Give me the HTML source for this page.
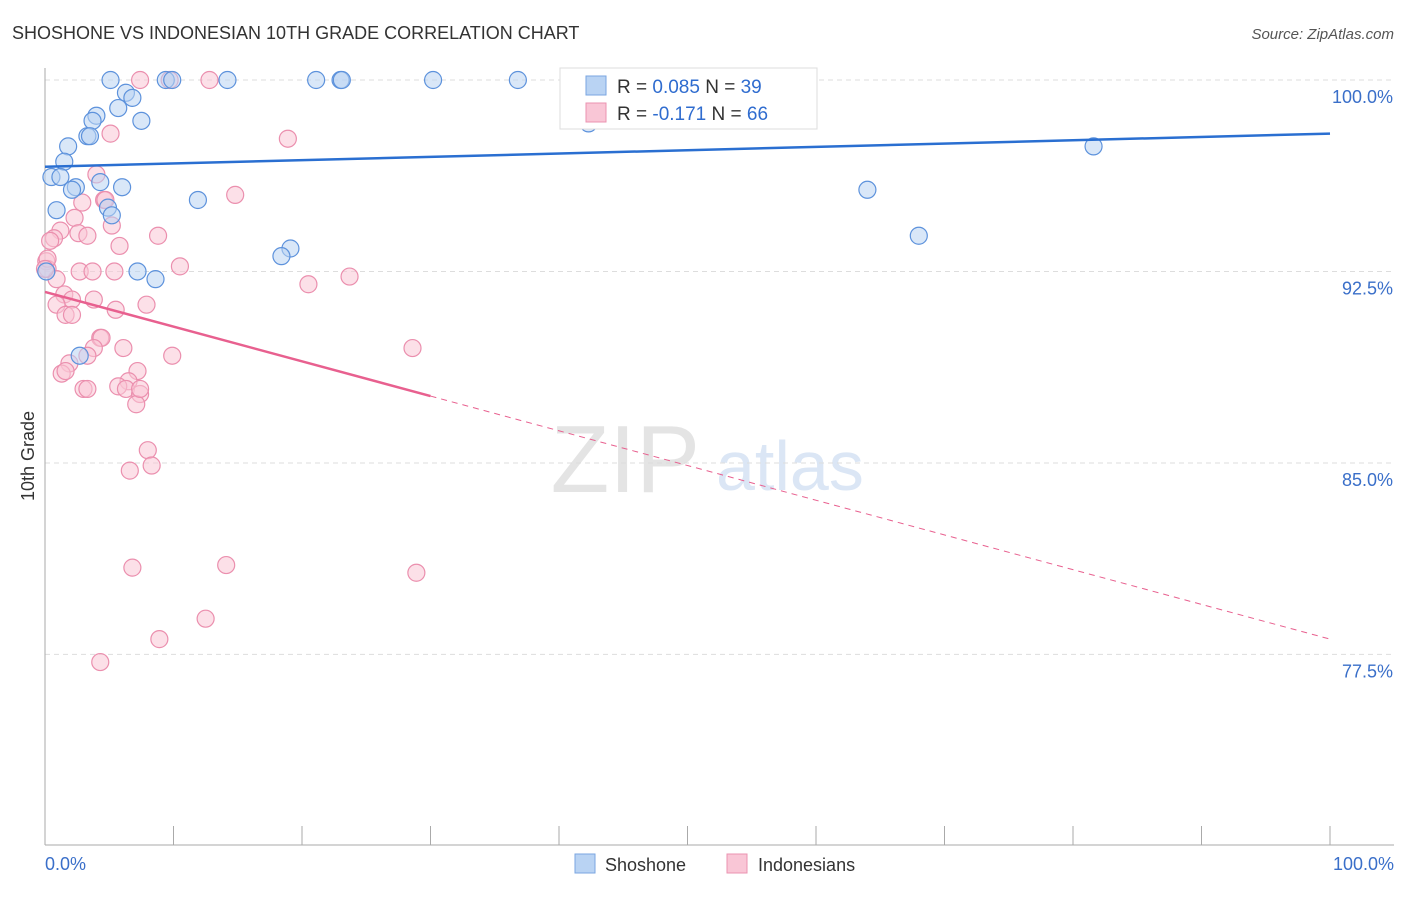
<!DOCTYPE html>
<html><head><meta charset="utf-8"><style>
body{margin:0;background:#fff;font-family:"Liberation Sans",sans-serif}
svg text{font-family:"Liberation Sans",sans-serif}
</style></head><body>
<svg width="1406" height="892" xmlns="http://www.w3.org/2000/svg">
<text x="12" y="39" font-size="18" fill="#333">SHOSHONE VS INDONESIAN 10TH GRADE CORRELATION CHART</text>
<text x="1394" y="39" font-size="15" fill="#555" font-style="italic" text-anchor="end">Source: ZipAtlas.com</text>
<text x="700" y="492" font-size="96" fill="#e4e4e4" font-family="Liberation Serif" text-anchor="end">ZIP</text>
<text x="716" y="490" font-size="70" fill="#dbe6f5">atlas</text>
<g id="grid"></g>
<g id="axes"></g>
<g id="pts"></g>
<g id="lines"></g>
<text transform="translate(34,456) rotate(-90)" font-size="18" fill="#333" text-anchor="middle">10th Grade</text>
<text x="45" y="870" font-size="18" fill="#3a6fc9">0.0%</text>
<text x="1394" y="870" font-size="18" fill="#3a6fc9" text-anchor="end">100.0%</text>
<g>
<rect x="560" y="68" width="257" height="61" fill="#fff" stroke="#ddd"/>
<rect x="586" y="76" width="20" height="19" fill="#b9d3f3" stroke="#7aa6e0"/>
<rect x="586" y="103" width="20" height="19" fill="#f9c6d6" stroke="#eb93b0"/>
<text x="617" y="93" font-size="19" fill="#333">R = <tspan fill="#2f6ccf">0.085</tspan>   N = <tspan fill="#2f6ccf">39</tspan></text>
<text x="617" y="120" font-size="19" fill="#333">R = <tspan fill="#2f6ccf">-0.171</tspan>   N = <tspan fill="#2f6ccf">66</tspan></text>
</g>
<g>
<rect x="575" y="854" width="20" height="19" fill="#b9d3f3" stroke="#7aa6e0"/>
<text x="605" y="871" font-size="18" fill="#333">Shoshone</text>
<rect x="727" y="854" width="20" height="19" fill="#f9c6d6" stroke="#eb93b0"/>
<text x="758" y="871" font-size="18" fill="#333">Indonesians</text>
</g>
</svg>
<script>
const yTicks=[100,92.5,85,77.5];
const yTickLabels=["100.0%","92.5%","85.0%","77.5%"];
const xTicks=[0,10,20,30,40,50,60,70,80,90,100];
const blueX=[5.1,9.4,14.2,21.1,23.0,23.1,30.2,36.8,6.3,6.8,5.7,7.5,4.0,3.7,3.3,3.5,1.8,1.5,0.5,1.2,2.4,2.1,6.0,4.3,4.9,5.2,0.9,11.9,19.1,18.4,7.2,8.6,0.1,2.7,42.3,64.0,68.0,81.6,9.9];
const blueY=[100,100,100,100,100,100,100,100,99.5,99.3,98.9,98.4,98.6,98.4,97.8,97.8,97.4,96.8,96.2,96.2,95.8,95.7,95.8,96.0,95.0,94.7,94.9,95.3,93.4,93.1,92.5,92.2,92.5,89.2,98.3,95.7,93.9,97.4,100];
const pinkX=[9.7,12.8,7.4,5.1,18.9,14.8,4.0,2.9,4.6,4.7,5.2,2.3,1.2,2.6,3.3,0.7,0.4,5.8,8.8,0.1,0.2,0.9,2.7,3.7,5.4,10.5,20.5,23.7,1.5,2.1,3.8,0.9,1.6,2.1,5.5,7.9,4.3,4.4,6.1,3.8,3.3,9.9,28.6,1.9,1.3,7.2,6.5,5.7,3.0,3.3,6.3,7.4,7.1,8.0,8.3,6.6,6.8,14.1,28.9,8.9,12.5,4.3,0.2,0.0,1.6,7.4];
const pinkY=[100,100,100,97.9,97.7,95.5,96.3,95.2,95.3,95.3,94.3,94.6,94.1,94.0,93.9,93.8,93.7,93.5,93.9,92.9,92.6,92.2,92.5,92.5,92.5,92.7,92.0,92.3,91.6,91.4,91.4,91.2,90.8,90.8,91.0,91.2,89.9,89.9,89.5,89.5,89.2,89.2,89.5,88.9,88.5,88.6,88.2,88.0,87.9,87.9,87.9,87.7,87.3,85.5,84.9,84.7,80.9,81.0,80.7,78.1,78.9,77.2,93.0,92.6,88.6,87.9];
const blueFit=[96.6,97.9];
const pinkFit=[91.7,78.1];
const pinkSolidEnd=30;
const X=v=>45+v*12.85, Y=v=>80+(100-v)*25.53;
const NS="http://www.w3.org/2000/svg";
function mk(t,a,p){const e=document.createElementNS(NS,t);for(const k in a)e.setAttribute(k,a[k]);p.appendChild(e);return e;}
const grid=document.getElementById('grid'),axes=document.getElementById('axes'),pts=document.getElementById('pts'),lines=document.getElementById('lines');
yTicks.forEach((v,i)=>{
 const l=mk('line',{x1:45,x2:1394,y1:Y(v),y2:Y(v),stroke:'#ddd','stroke-dasharray':'5,4'},grid);
 
 
 const t=mk('text',{x:1393,y:Y(v)+23,'font-size':18,fill:'#3a6fc9','text-anchor':'end'},grid);
 t.textContent=yTickLabels[i];
 
 
});
const ya=mk('line',{x1:45,x2:45,y1:68,y2:845,stroke:'#aaa'},axes);


const xa=mk('line',{x1:45,x2:1394,y1:845,y2:845,stroke:'#aaa'},axes);


xTicks.forEach(v=>{
 const t=mk('line',{x1:X(v),x2:X(v),y1:826,y2:845,stroke:'#aaa'},axes);
 
 
});
function dots(xs,ys,fill,stroke,name){xs.forEach((x,i)=>{
 const c=mk('circle',{cx:X(x),cy:Y(ys[i]),r:8.5,fill:fill,'fill-opacity':0.55,stroke:stroke,'stroke-width':1.2},pts);
 
 
});}
dots(pinkX,pinkY,'#f9c6d6','#eb8fae','indonesians-point');
dots(blueX,blueY,'#b9d3f3','#5d92dc','shoshone-point');
const bl=mk('line',{x1:X(0),y1:Y(blueFit[0]),x2:X(100),y2:Y(blueFit[1]),stroke:'#2a6fd1','stroke-width':2.5},lines);


const pv=x=>pinkFit[0]+(pinkFit[1]-pinkFit[0])*x/100;
const pl=mk('line',{x1:X(0),y1:Y(pv(0)),x2:X(pinkSolidEnd),y2:Y(pv(pinkSolidEnd)),stroke:'#e8608f','stroke-width':2.5},lines);


const pd=mk('line',{x1:X(pinkSolidEnd),y1:Y(pv(pinkSolidEnd)),x2:X(100),y2:Y(pv(100)),stroke:'#e8608f','stroke-width':1,'stroke-dasharray':'6,5'},lines);


</script>
</body></html>
